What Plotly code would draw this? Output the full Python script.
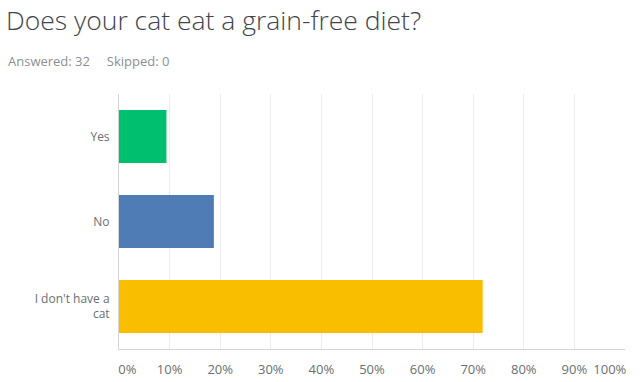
import plotly.graph_objects as go

categories = ["Yes", "No", "I don't have a<br>cat"]
values = [9.38, 18.75, 71.88]
colors = ["#00bf6f", "#507cb6", "#f9be00"]
tick_vals = [0, 10, 20, 30, 40, 50, 60, 70, 80, 90, 100]
tick_text = ["\u00a0\u00a0\u00a0\u00a0\u00a00%", "10%", "20%", "30%", "40%", "50%", "60%", "70%", "80%", "90%",
             "100%" + "\u00a0" * 9]

fig = go.Figure(go.Bar(
    x=values, y=categories, orientation="h",
    marker=dict(color=colors, line=dict(width=0)),
    hoverinfo="skip",
))

fig.update_layout(
    width=640, height=382,
    margin=dict(l=119, r=15, t=94, b=33),
    paper_bgcolor="white", plot_bgcolor="white",
    bargap=0.375,
    showlegend=False,
    font=dict(family="Open Sans", color="#6a6f74", size=12),
    title=dict(text="Does your cat eat a grain-free diet?", x=6/640, xanchor="left",
               y=1 - 21/382, yanchor="middle",
               font=dict(family="Open Sans", size=26.5, color="#3e454c", weight=300)),
    annotations=[dict(text="Answered: 32&nbsp;&nbsp;&nbsp;&nbsp;&nbsp;Skipped: 0", xref="paper", yref="paper",
                      x=-113/506, y=1 + 33/255, xanchor="left", yanchor="middle",
                      showarrow=False, font=dict(size=13, color="#8a8f94"))],
)
fig.update_xaxes(range=[0, 100], tickvals=tick_vals, ticktext=tick_text,
                 showgrid=True, gridcolor="#ededed", gridwidth=1,
                 showline=True, linecolor="#d4d4d4", linewidth=1,
                 zeroline=False, ticks="outside", ticklen=8, tickcolor="rgba(0,0,0,0)",
                 fixedrange=True, automargin=False, ticklabeloverflow="allow",
                 tickfont=dict(size=13, color="#6a6f74"))
fig.update_yaxes(autorange="reversed", showline=True, linecolor="#d4d4d4", linewidth=1,
                 ticks="outside", ticklen=6, tickcolor="rgba(0,0,0,0)", automargin=False,
                 tickfont=dict(size=12, color="#6a6f74"), fixedrange=True)

fig.write_html("out.html", config={"displayModeBar": False},
               post_script="document.body.style.margin='0';")
